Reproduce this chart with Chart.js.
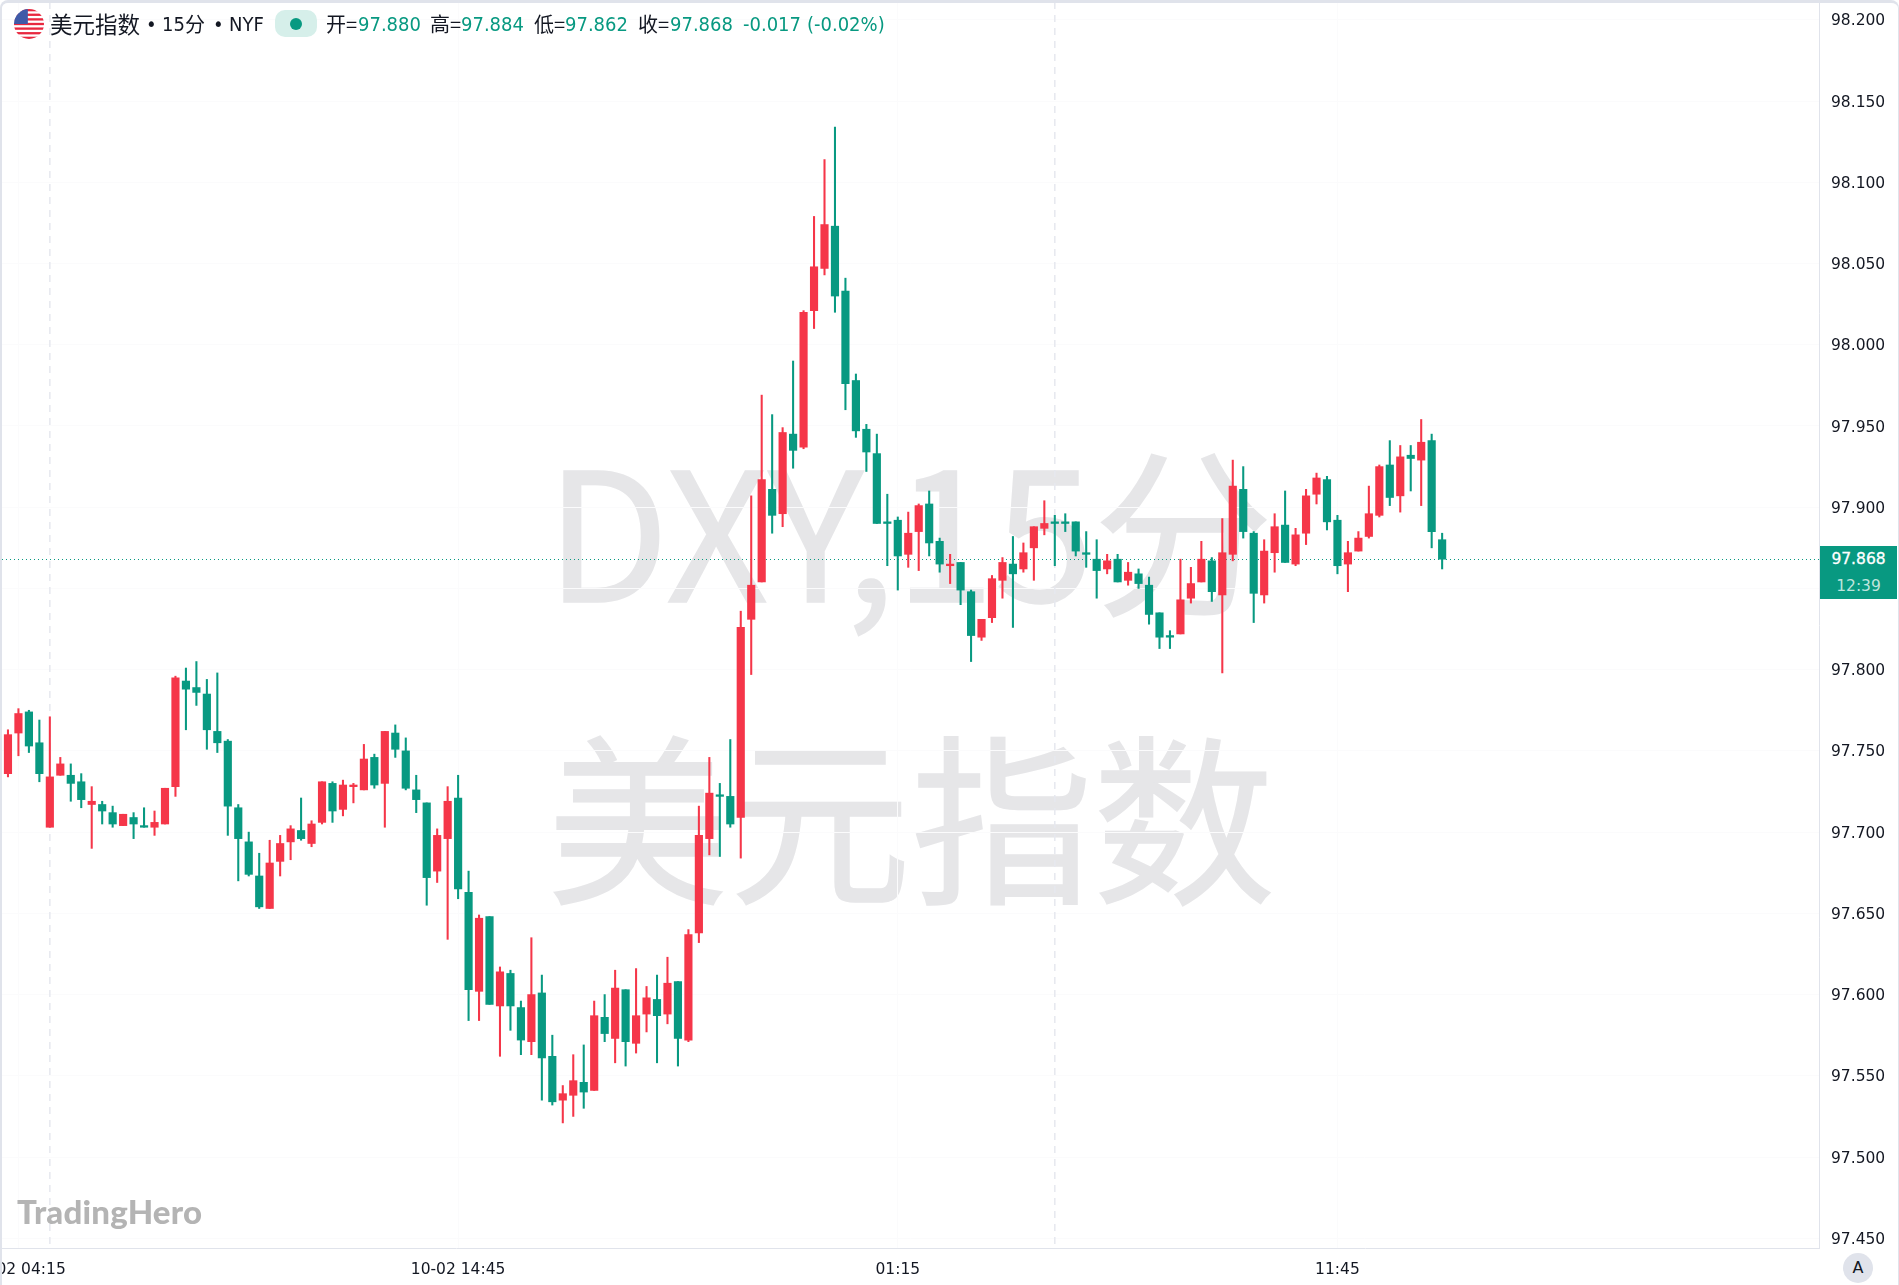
<!DOCTYPE html>
<html lang="zh-CN">
<head>
  <meta charset="UTF-8">
  <title>美元指数 15分</title>
  <script src="https://cdn.jsdelivr.net/npm/chart.js"></script>
  <style>
    html, body { margin: 0; padding: 0; background: #fff; width: 1899px; height: 1285px; overflow: hidden; }
    body { position: relative; font-family: "DejaVu Sans", sans-serif; }
    canvas { position: absolute; left: 0; top: 0; z-index: 1; }
    .mark { position: absolute; z-index: 0; color: #e6e6e8; font-family: "Noto Sans CJK SC", sans-serif; font-weight: 400; -webkit-text-stroke: 1.5px #e6e6e8; line-height: 1; white-space: nowrap; }
    #frame { position: absolute; left: 0; top: 0; width: 1899px; height: 1285px; box-sizing: border-box; z-index: 3;
      border: 2px solid #e0e3eb; border-top-width: 3px; border-bottom: none; border-right-width: 1px; border-radius: 8px 8px 0 0; pointer-events: none; }
    .h { position: absolute; z-index: 2; top: 10px; height: 28px; line-height: 28px; font-size: 20px; color: #131722; white-space: nowrap;
      font-family: "DejaVu Sans Condensed", "DejaVu Sans", "Noto Sans CJK SC", sans-serif; }
    .h.cjk { font-family: "Noto Sans CJK SC", sans-serif; }
    .h.g { color: #089981; }
    #flag { position: absolute; z-index: 2; left: 14px; top: 9px; }
    #pill { position: absolute; z-index: 2; left: 275px; top: 10px; width: 42px; height: 27px; border-radius: 10px; background: #d6efea; }
    #pill i { position: absolute; left: 15px; top: 8px; width: 12px; height: 12px; border-radius: 50%; background: #089981; }
    #logo { position: absolute; z-index: 2; left: 17px; top: 1191px; font: 900 33px Lato, sans-serif; color: #b4b4b4; letter-spacing: 0.2px; }
    #tag { position: absolute; z-index: 2; left: 1820px; top: 546px; width: 77px; height: 53px; background: #089981; text-align: center; color: #fff; font-size: 15.5px; }
    #tag div { position: absolute; left: 0; width: 77px; line-height: 20px; }
    #tag .p { top: 3px; -webkit-text-stroke: 0.3px #fff; }
    #tag .t { top: 30px; color: #bfe4dd; }
    #auto { position: absolute; z-index: 2; left: 1843px; top: 1253px; width: 30px; height: 30px; border-radius: 50%; background: #e0e3eb;
      text-align: center; line-height: 30px; font-size: 16px; color: #131722; }
  </style>
</head>
<body>
  <div class="mark" style="left:546px;top:435px;font-size:179px">DXY,15分</div>
  <div class="mark" style="left:547px;top:720px;font-size:182px">美元指数</div>

  <canvas id="dxyChart" width="1899" height="1285"></canvas>

  <svg id="flag" width="30" height="30" viewBox="0 0 26 26">
    <defs><clipPath id="round"><circle cx="13" cy="13" r="13"/></clipPath></defs>
    <g clip-path="url(#round)">
      <rect width="26" height="26" fill="#fff"/>
      <rect y="0" width="26" height="2" fill="#e8283f"/>
      <rect y="4" width="26" height="2" fill="#e8283f"/>
      <rect y="8" width="26" height="2" fill="#e8283f"/>
      <rect y="12" width="26" height="2" fill="#e8283f"/>
      <rect y="16" width="26" height="2" fill="#e8283f"/>
      <rect y="20" width="26" height="2" fill="#e8283f"/>
      <rect y="24" width="26" height="2" fill="#e8283f"/>
      <rect width="12" height="13" fill="#3f5aa8"/>
    </g>
  </svg>
  <span class="h cjk" style="left:50px;top:9px;font-size:22.5px">美元指数</span>
  <span class="h" style="left:146px">•</span>
  <span class="h" style="left:162px">15</span>
  <span class="h cjk" style="left:185px">分</span>
  <span class="h" style="left:213px">•</span>
  <span class="h" style="left:229px">NYF</span>
  <div id="pill"><i></i></div>
  <span class="h cjk" style="left:326px">开=</span><span class="h g" style="left:358px">97.880</span>
  <span class="h cjk" style="left:430px">高=</span><span class="h g" style="left:461px">97.884</span>
  <span class="h cjk" style="left:534px">低=</span><span class="h g" style="left:565px">97.862</span>
  <span class="h cjk" style="left:638px">收=</span><span class="h g" style="left:670px">97.868</span>
  <span class="h g" style="left:743px">-0.017</span>
  <span class="h g" style="left:807px">(-0.02%)</span>

  <div id="logo">TradingHero</div>
  <div id="tag"><div class="p">97.868</div><div class="t">12:39</div></div>
  <div id="auto">A</div>
  <div id="frame"></div>

  <script>
    // values, one entry per 15 min candle
    const open = [
      97.736, 97.761, 97.774, 97.755, 97.703, 97.735, 97.735, 97.731, 97.717, 97.717,
      97.712, 97.704, 97.709, 97.704, 97.703, 97.705, 97.728, 97.793, 97.789, 97.785,
      97.762, 97.756, 97.715, 97.694, 97.673, 97.653, 97.682, 97.694, 97.701, 97.693,
      97.706, 97.730, 97.714, 97.728, 97.726, 97.746, 97.730, 97.761, 97.750, 97.726,
      97.718, 97.676, 97.696, 97.721, 97.663, 97.602, 97.648, 97.593, 97.613, 97.592,
      97.571, 97.601, 97.562, 97.535, 97.538, 97.546, 97.541, 97.586, 97.573, 97.603,
      97.570, 97.588, 97.597, 97.588, 97.608, 97.572, 97.638, 97.696, 97.723, 97.722,
      97.709, 97.831, 97.854, 97.911, 97.896, 97.945, 97.937, 98.021, 98.047, 98.073,
      98.033, 97.978, 97.948, 97.933, 97.891, 97.892, 97.871, 97.885, 97.902, 97.879,
      97.864, 97.866, 97.848, 97.820, 97.832, 97.855, 97.865, 97.862, 97.875, 97.887,
      97.891, 97.891, 97.891, 97.872, 97.868, 97.862, 97.868, 97.855, 97.859, 97.852,
      97.835, 97.821, 97.822, 97.844, 97.854, 97.867, 97.846, 97.871, 97.911, 97.884,
      97.846, 97.872, 97.889, 97.865, 97.884, 97.908, 97.917, 97.892, 97.865, 97.873,
      97.882, 97.895, 97.926, 97.907, 97.932, 97.929, 97.941, 97.880
    ];
    const high = [
      97.763, 97.776, 97.775, 97.769, 97.771, 97.746, 97.742, 97.736, 97.728, 97.719,
      97.716, 97.711, 97.712, 97.715, 97.713, 97.727, 97.796, 97.801, 97.805, 97.794,
      97.798, 97.757, 97.717, 97.700, 97.687, 97.695, 97.698, 97.704, 97.721, 97.707,
      97.731, 97.731, 97.732, 97.730, 97.754, 97.748, 97.762, 97.766, 97.758, 97.735,
      97.718, 97.702, 97.728, 97.735, 97.676, 97.649, 97.648, 97.617, 97.615, 97.596,
      97.635, 97.612, 97.575, 97.544, 97.563, 97.569, 97.596, 97.600, 97.615, 97.603,
      97.616, 97.605, 97.612, 97.623, 97.608, 97.640, 97.716, 97.746, 97.730, 97.757,
      97.836, 97.907, 97.969, 97.957, 97.949, 97.990, 98.021, 98.079, 98.114, 98.134,
      98.041, 97.982, 97.951, 97.945, 97.908, 97.894, 97.897, 97.902, 97.910, 97.881,
      97.871, 97.866, 97.849, 97.831, 97.858, 97.869, 97.882, 97.878, 97.888, 97.904,
      97.895, 97.896, 97.891, 97.885, 97.880, 97.871, 97.871, 97.866, 97.862, 97.857,
      97.835, 97.824, 97.868, 97.863, 97.879, 97.869, 97.893, 97.929, 97.925, 97.885,
      97.880, 97.896, 97.910, 97.887, 97.911, 97.921, 97.919, 97.895, 97.879, 97.885,
      97.913, 97.926, 97.941, 97.938, 97.938, 97.954, 97.945, 97.884
    ];
    const low = [
      97.734, 97.747, 97.749, 97.731, 97.703, 97.735, 97.719, 97.715, 97.690, 97.705,
      97.703, 97.704, 97.696, 97.703, 97.698, 97.705, 97.722, 97.763, 97.778, 97.751,
      97.749, 97.698, 97.670, 97.673, 97.653, 97.653, 97.673, 97.683, 97.695, 97.691,
      97.705, 97.706, 97.710, 97.718, 97.726, 97.727, 97.703, 97.746, 97.726, 97.712,
      97.655, 97.669, 97.634, 97.659, 97.584, 97.584, 97.594, 97.562, 97.578, 97.563,
      97.563, 97.535, 97.532, 97.521, 97.525, 97.530, 97.541, 97.571, 97.558, 97.556,
      97.564, 97.577, 97.558, 97.582, 97.556, 97.571, 97.632, 97.686, 97.685, 97.703,
      97.684, 97.797, 97.854, 97.884, 97.888, 97.924, 97.936, 98.010, 98.043, 98.020,
      97.960, 97.943, 97.922, 97.890, 97.864, 97.849, 97.863, 97.861, 97.870, 97.860,
      97.853, 97.840, 97.805, 97.818, 97.829, 97.844, 97.826, 97.860, 97.855, 97.883,
      97.864, 97.885, 97.870, 97.863, 97.844, 97.859, 97.854, 97.852, 97.850, 97.828,
      97.813, 97.813, 97.822, 97.841, 97.854, 97.842, 97.798, 97.867, 97.881, 97.829,
      97.841, 97.860, 97.866, 97.864, 97.877, 97.902, 97.886, 97.859, 97.848, 97.873,
      97.881, 97.894, 97.901, 97.897, 97.910, 97.901, 97.875, 97.862
    ];
    const close = [
      97.760, 97.773, 97.753, 97.736, 97.734, 97.742, 97.730, 97.720, 97.719, 97.713,
      97.705, 97.711, 97.705, 97.703, 97.706, 97.727, 97.795, 97.788, 97.786, 97.763,
      97.755, 97.716, 97.696, 97.674, 97.654, 97.681, 97.693, 97.702, 97.696, 97.705,
      97.731, 97.713, 97.729, 97.729, 97.745, 97.729, 97.762, 97.751, 97.727, 97.720,
      97.672, 97.698, 97.719, 97.665, 97.603, 97.647, 97.594, 97.614, 97.593, 97.572,
      97.600, 97.561, 97.534, 97.539, 97.547, 97.540, 97.587, 97.576, 97.604, 97.571,
      97.587, 97.598, 97.587, 97.607, 97.573, 97.637, 97.698, 97.724, 97.722, 97.705,
      97.826, 97.852, 97.917, 97.895, 97.946, 97.935, 98.020, 98.048, 98.074, 98.030,
      97.976, 97.947, 97.934, 97.890, 97.890, 97.870, 97.884, 97.901, 97.878, 97.865,
      97.865, 97.849, 97.821, 97.831, 97.856, 97.866, 97.859, 97.872, 97.888, 97.890,
      97.890, 97.890, 97.873, 97.871, 97.861, 97.867, 97.854, 97.860, 97.853, 97.834,
      97.820, 97.820, 97.843, 97.853, 97.868, 97.848, 97.872, 97.913, 97.885, 97.847,
      97.873, 97.888, 97.866, 97.883, 97.907, 97.918, 97.891, 97.864, 97.872, 97.881,
      97.896, 97.925, 97.906, 97.931, 97.930, 97.940, 97.885, 97.868
    ];

    const xTickIndex = [1, 43, 85, 127];
    const xTickLabels = ['10-02 04:15', '10-02 14:45', '01:15', '11:45'];
    const yTickValues = [
      98.2, 98.15, 98.1, 98.05, 98.0, 97.95, 97.9, 97.85,
      97.8, 97.75, 97.7, 97.65, 97.6, 97.55, 97.5, 97.45
    ];
    const dayBreaks = [4, 100];   // dashed separators
    const lastPrice = 97.868;

    const upColor = '#f53649';
    const downColor = '#089981';
    const candleColors = close.map((c, i) => (c >= open[i] ? upColor : downColor));

    // dashed day lines and the dotted last price line go behind the candles
    const guideLines = {
      id: 'guideLines',
      beforeDatasetsDraw(chart) {
        const { ctx, chartArea, scales } = chart;
        ctx.save();
        ctx.lineWidth = 1.5;
        ctx.strokeStyle = '#e6e8ef';
        ctx.setLineDash([7, 6]);
        dayBreaks.forEach((i) => {
          const x = scales.x.getPixelForValue(i);
          ctx.beginPath();
          ctx.moveTo(x, chartArea.top);
          ctx.lineTo(x, chartArea.bottom);
          ctx.stroke();
        });
        const y = Math.round(scales.y.getPixelForValue(lastPrice)) + 0.5;
        ctx.lineWidth = 1;
        ctx.strokeStyle = downColor;
        ctx.setLineDash([1, 3]);
        ctx.beginPath();
        ctx.moveTo(chartArea.left, y);
        ctx.lineTo(chartArea.right, y);
        ctx.stroke();
        ctx.restore();
      }
    };

    const axisFont = { family: '"DejaVu Sans", sans-serif', size: 15.5 };

    new Chart(document.getElementById('dxyChart').getContext('2d'), {
      type: 'bar',
      data: {
        datasets: [
          {
            label: 'body',
            data: open.map((o, i) => ({ x: i, y: [o, close[i]] })),
            backgroundColor: candleColors,
            barThickness: 7.5,
            grouped: false,
            minBarLength: 1.5
          },
          {
            label: 'wick',
            data: low.map((l, i) => ({ x: i, y: [l, high[i]] })),
            backgroundColor: candleColors,
            barThickness: 1.4,
            grouped: false
          }
        ]
      },
      options: {
        responsive: false,
        animation: false,
        events: [],
        layout: { padding: { left: 2, top: 2, right: 0, bottom: 0 } },
        plugins: { legend: { display: false }, tooltip: { enabled: false } },
        scales: {
          x: {
            type: 'linear',
            offset: false,
            min: -0.57,
            max: 173,
            grid: { color: '#fbfbfc', drawTicks: false, offset: false },
            border: { color: '#e0e3eb' },
            afterBuildTicks(scale) { scale.ticks = xTickIndex.map((v) => ({ value: v })); },
            afterFit(scale) { scale.height = 37; scale.paddingLeft = 0; scale.paddingRight = 0; },
            ticks: {
              autoSkip: false,
              maxRotation: 0,
              padding: 13,
              color: '#131722',
              font: axisFont,
              callback: (v) => xTickLabels[xTickIndex.indexOf(v)]
            }
          },
          y: {
            position: 'right',
            min: 97.444,
            max: 98.211,
            grid: { color: '#fbfbfc', drawTicks: false },
            border: { color: '#e0e3eb' },
            afterBuildTicks(scale) { scale.ticks = yTickValues.map((v) => ({ value: v })); },
            afterFit(scale) { scale.width = 80; scale.paddingTop = 0; scale.paddingBottom = 0; },
            ticks: {
              padding: 12,
              labelOffset: 1.5,
              color: '#131722',
              font: axisFont,
              callback: (v) => v.toFixed(3)
            }
          }
        }
      },
      plugins: [guideLines]
    });
  </script>
</body>
</html>
